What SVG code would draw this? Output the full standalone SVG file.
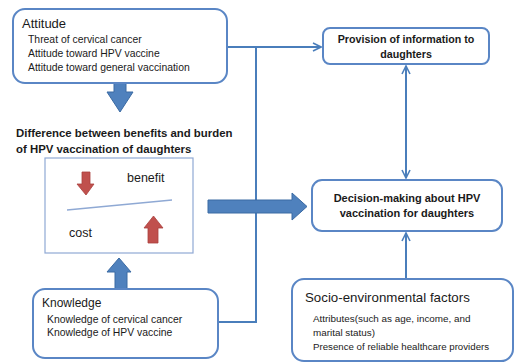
<svg xmlns="http://www.w3.org/2000/svg" width="519" height="362" viewBox="0 0 519 362">
  <defs>
    <style>
      .box { fill: #ffffff; stroke: #5a86c5; stroke-width: 2; }
      .inner { fill: #ffffff; stroke: #8fa9d4; stroke-width: 1.2; }
      .line { fill: none; stroke: #4a7ebb; stroke-width: 2; }
      .block { fill: #4f81bd; stroke: #3a6aa3; stroke-width: 1; }
      .red { fill: #c0504d; stroke: #a9403d; stroke-width: 0.8; }
      text { font-family: "Liberation Sans", Arial, sans-serif; fill: #1a1a1a; }
      .title { font-size: 13px; }
      .item { font-size: 10.4px; }
      .bold { font-size: 11px; font-weight: bold; }
      .label { font-size: 12.5px; }
    </style>
    <marker id="arrow" viewBox="0 0 10 10" refX="9" refY="5" markerWidth="5" markerHeight="5" orient="auto-start-reverse" markerUnits="strokeWidth">
      <path d="M1,1 L9,5 L1,9" fill="none" stroke="#4a7ebb" stroke-width="1.6"/>
    </marker>
  </defs>

  <g id="connectors">
    <!-- attitude / knowledge bus to information provision -->
    <polyline class="line" points="227,47 256,47 256,322 218,322"/>
    <line class="line" x1="256" y1="47" x2="321" y2="47" marker-end="url(#arrow)"/>
    <!-- provision <-> decision -->
    <line class="line" x1="406" y1="66" x2="406" y2="178" marker-start="url(#arrow)" marker-end="url(#arrow)"/>
    <!-- socio-environmental -> decision -->
    <line class="line" x1="406" y1="279" x2="406" y2="233" marker-end="url(#arrow)"/>
    <!-- block arrows -->
    <polygon class="block" points="114,83 126,83 126,92 133,92 120,112 107,92 114,92"/>
    <polygon class="block" points="115,289 127,289 127,272 131,272 119,258 107,272 115,272"/>
    <polygon class="block" points="208,200 292,200 292,193 307,206.5 292,220 292,213 208,213"/>
  </g>

  <g id="attitude">
    <rect class="box" x="13" y="9" width="214" height="74" rx="12"/>
    <text class="title" x="22" y="28">Attitude</text>
    <text class="item" x="28" y="43">Threat of cervical cancer</text>
    <text class="item" x="28" y="57">Attitude toward HPV vaccine</text>
    <text class="item" x="28" y="71">Attitude toward general vaccination</text>
  </g>

  <g id="provision">
    <rect class="box" x="323" y="28" width="166" height="36" rx="7"/>
    <text class="bold" x="406" y="43" text-anchor="middle" style="font-size:10.7px">Provision of information to</text>
    <text class="bold" x="406" y="58" text-anchor="middle" style="font-size:10.7px">daughters</text>
  </g>

  <g id="balance">
    <text class="bold" x="16" y="137" style="font-size:11.4px">Difference between benefits and burden</text>
    <text class="bold" x="16" y="153" style="font-size:11.4px">of HPV vaccination of daughters</text>
    <rect class="inner" x="45" y="158" width="148" height="95"/>
    <polygon class="red" points="82,172 90,172 90,184 94,184 86,195 77,184 82,184"/>
    <text class="label" x="127" y="182">benefit</text>
    <line x1="67" y1="210" x2="172" y2="200" stroke="#8fa9d4" stroke-width="1.5"/>
    <text class="label" x="69" y="237">cost</text>
    <polygon class="red" points="148,243 158,243 158,228 163,228 153.5,216 144,228 148,228"/>
  </g>

  <g id="decision">
    <rect class="box" x="312" y="180" width="190" height="51" rx="10"/>
    <text class="bold" x="407" y="202" text-anchor="middle">Decision-making about HPV</text>
    <text class="bold" x="407" y="217" text-anchor="middle">vaccination for daughters</text>
  </g>

  <g id="knowledge">
    <rect class="box" x="33" y="289" width="185" height="69" rx="12"/>
    <text class="title" x="42" y="307" style="font-size:12px">Knowledge</text>
    <text class="item" x="47" y="323">Knowledge of cervical cancer</text>
    <text class="item" x="47" y="336">Knowledge of HPV vaccine</text>
  </g>

  <g id="socio">
    <rect class="box" x="292" y="279" width="221" height="82" rx="12"/>
    <text class="title" x="305" y="302" style="font-size:13.3px">Socio-environmental factors</text>
    <text class="item" x="313" y="322" style="font-size:9.9px">Attributes(such as  age, income, and</text>
    <text class="item" x="313" y="336" style="font-size:9.9px">marital status)</text>
    <text class="item" x="313" y="350" style="font-size:9.7px">Presence of reliable healthcare providers</text>
  </g>
</svg>
